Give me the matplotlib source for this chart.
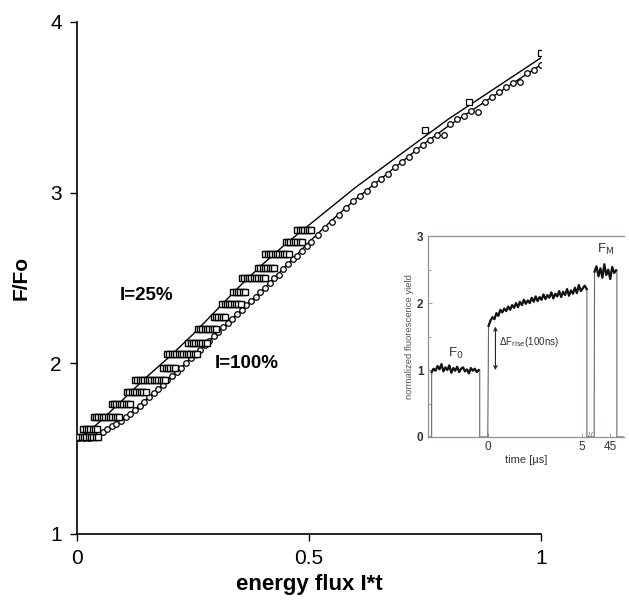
import numpy as np
import matplotlib
matplotlib.use('Agg')
import matplotlib.pyplot as plt

plt.rcParams['font.family'] = ['Liberation Sans', 'DejaVu Sans']

# I=100% : circles
c_x = [0.005, 0.015, 0.025, 0.035, 0.045, 0.055, 0.065, 0.075, 0.085, 0.095,
       0.105, 0.115, 0.125, 0.135, 0.145, 0.155, 0.165, 0.175, 0.185, 0.195,
       0.205, 0.215, 0.225, 0.235, 0.245, 0.255, 0.265, 0.275, 0.285, 0.295,
       0.305, 0.315, 0.325, 0.335, 0.345, 0.355, 0.365, 0.375, 0.385, 0.395,
       0.405, 0.415, 0.425, 0.435, 0.445, 0.455, 0.465, 0.475, 0.485, 0.495,
       0.505, 0.52, 0.535, 0.55, 0.565, 0.58, 0.595, 0.61, 0.625, 0.64,
       0.655, 0.67, 0.685, 0.70, 0.715, 0.73, 0.745, 0.76, 0.775, 0.79,
       0.805, 0.82, 0.835, 0.85, 0.865, 0.88, 0.895, 0.91, 0.925, 0.94,
       0.955, 0.97, 0.985, 1.0]
c_y = [1.56, 1.56, 1.565, 1.57, 1.585, 1.60, 1.615, 1.63, 1.645, 1.665,
       1.685, 1.705, 1.725, 1.75, 1.775, 1.80, 1.825, 1.85, 1.875, 1.90,
       1.925, 1.95, 1.975, 2.00, 2.03, 2.055, 2.08, 2.105, 2.13, 2.16,
       2.185, 2.21, 2.235, 2.26, 2.29, 2.315, 2.34, 2.365, 2.39, 2.415,
       2.44, 2.47, 2.50, 2.52, 2.55, 2.58, 2.61, 2.63, 2.66, 2.69,
       2.71, 2.75, 2.79, 2.83, 2.87, 2.91, 2.95, 2.98, 3.01, 3.05,
       3.08, 3.11, 3.15, 3.18, 3.21, 3.25, 3.28, 3.31, 3.34, 3.34,
       3.40, 3.43, 3.45, 3.48, 3.47, 3.53, 3.56, 3.59, 3.62, 3.64,
       3.65, 3.70, 3.72, 3.75]

# I=25% : squares, grouped by F/Fo level
s_levels = [1.57, 1.615, 1.685, 1.76, 1.83, 1.90, 1.975, 2.055, 2.12, 2.20,
            2.27, 2.345, 2.42, 2.50, 2.56, 2.64, 2.71, 2.78]
s_rows = [[0.0, 0.005, 0.01, 0.015, 0.02, 0.025, 0.03, 0.035, 0.04, 0.045],
          [0.014, 0.019, 0.024, 0.029, 0.034, 0.039, 0.044],
          [0.036, 0.041, 0.046, 0.051, 0.056, 0.061, 0.066, 0.071, 0.076, 0.081,
           0.086, 0.091],
          [0.075, 0.08, 0.085, 0.09, 0.095, 0.1, 0.105, 0.11, 0.115],
          [0.108, 0.113, 0.118, 0.123, 0.128, 0.133, 0.138, 0.143, 0.148],
          [0.125, 0.13, 0.135, 0.14, 0.145, 0.15, 0.155, 0.16, 0.165, 0.17,
           0.175, 0.18, 0.185, 0.19],
          [0.186, 0.191, 0.196, 0.201, 0.206, 0.211],
          [0.194, 0.199, 0.204, 0.209, 0.214, 0.219, 0.224, 0.229, 0.234, 0.239,
           0.244, 0.249, 0.254, 0.259],
          [0.24, 0.245, 0.25, 0.255, 0.26, 0.265, 0.27, 0.275, 0.28],
          [0.26, 0.265, 0.27, 0.275, 0.28, 0.285, 0.29, 0.295, 0.30],
          [0.295, 0.30, 0.305, 0.31, 0.315, 0.32],
          [0.313, 0.318, 0.323, 0.328, 0.333, 0.338, 0.343, 0.348, 0.353],
          [0.337, 0.342, 0.347, 0.352, 0.357, 0.362],
          [0.356, 0.361, 0.366, 0.371, 0.376, 0.381, 0.386, 0.391, 0.396, 0.401,
           0.406],
          [0.39, 0.395, 0.40, 0.405, 0.41, 0.415, 0.42, 0.425],
          [0.406, 0.411, 0.416, 0.421, 0.426, 0.431, 0.436, 0.441, 0.446, 0.451,
           0.456],
          [0.45, 0.455, 0.46, 0.465, 0.47, 0.475, 0.48, 0.485],
          [0.475, 0.48, 0.485, 0.49, 0.495, 0.50, 0.505]]
s_late_x = [0.75, 0.845, 1.0]
s_late_y = [3.37, 3.53, 3.82]

# fitted curves
fit25_x = [0.0, 0.02, 0.05, 0.1, 0.15, 0.2, 0.25, 0.3, 0.35, 0.4, 0.45, 0.5,
           0.6, 0.7, 0.8, 0.9, 1.0]
fit25_y = [1.57, 1.59, 1.66, 1.79, 1.92, 2.04, 2.17, 2.31, 2.45, 2.58, 2.70, 2.81,
           3.03, 3.23, 3.43, 3.61, 3.79]
fit100_x = [0.0, 0.03, 0.06, 0.1, 0.15, 0.2, 0.25, 0.3, 0.35, 0.4, 0.45, 0.5,
            0.55, 0.6, 0.65, 0.7, 0.75, 0.8, 0.85, 0.9, 0.95, 1.0]
fit100_y = [1.57, 1.565, 1.60, 1.67, 1.79, 1.91, 2.04, 2.17, 2.30, 2.43, 2.57, 2.71,
            2.84, 2.96, 3.07, 3.18, 3.29, 3.39, 3.48, 3.57, 3.66, 3.75]

# inset trace (time axis broken, arbitrary index units)
f0_x = list(range(2, 27))
f0_y = [0.97, 1.02, 0.99, 1.06, 1.01, 1.09, 0.98, 1.04, 1.00, 1.07, 0.96, 1.03,
        0.99, 1.05, 0.97, 1.02, 1.04, 0.98, 1.01, 0.95, 1.03, 0.99, 1.02, 0.97, 1.00]
rise_x = list(range(31, 82))
rise_y = [1.66, 1.74, 1.79, 1.76, 1.85, 1.81, 1.90, 1.86, 1.92, 1.88, 1.95, 1.90,
          1.97, 1.93, 2.00, 1.94, 2.02, 1.97, 2.05, 1.99, 2.04, 2.00, 2.08, 2.02,
          2.10, 2.03, 2.09, 2.05, 2.13, 2.06, 2.12, 2.08, 2.16, 2.07, 2.14, 2.10,
          2.18, 2.09, 2.17, 2.12, 2.21, 2.11, 2.19, 2.14, 2.23, 2.15, 2.27, 2.18,
          2.22, 2.26, 2.21]
fm_x = list(range(85, 97))
fm_y = [2.47, 2.55, 2.40, 2.52, 2.38, 2.58, 2.42, 2.50, 2.36, 2.54, 2.45, 2.49]
inset_ticks = [30.6, 78.6, 92.9]
inset_ticklabels = ['0', '5', '45']

fig = plt.figure(figsize=(6.29, 6.04), dpi=100)
ax = fig.add_axes([0.1224, 0.1159, 0.7376, 0.8477])

ax.plot(fit25_x, fit25_y, color='black', lw=1.0, zorder=2)
ax.plot(fit100_x, fit100_y, color='black', lw=1.0, zorder=2)
ax.plot(c_x, c_y, ls='none', marker='o', ms=4.0, mfc='white', mec='black',
        mew=0.9, zorder=3)
for lev, row in zip(s_levels, s_rows):
    ax.plot(row, [lev] * len(row), ls='none', marker='s', ms=4.0, mfc='white',
            mec='black', mew=1.0, zorder=4)
ax.plot(s_late_x, s_late_y, ls='none', marker='s', ms=4.2, mfc='white',
        mec='black', mew=0.9, zorder=4)

ax.text(0.093, 2.40, 'I=25%', fontsize=13.5, fontweight='bold', va='center')
ax.text(0.298, 2.0, 'I=100%', fontsize=13.5, fontweight='bold', va='center')

ax.set_xlim(0, 1)
ax.set_ylim(1, 4)
ax.set_xticks([0, 0.5, 1])
ax.set_xticklabels(['0', '0.5', '1'])
ax.set_yticks([1, 2, 3, 4])
ax.tick_params(direction='out', length=5, width=1, labelsize=15, pad=6)
ax.spines['top'].set_visible(False)
ax.spines['right'].set_visible(False)
ax.spines['left'].set_linewidth(1.2)
ax.spines['bottom'].set_linewidth(1.2)
ax.set_xlabel('energy flux I*t', fontsize=16, fontweight='bold', labelpad=4)
ax.set_ylabel('F/Fo', fontsize=15, fontweight='bold', labelpad=14)

# inset: fluorescence transient
frame = '#9a8e84'
ins = fig.add_axes([0.680, 0.2765, 0.312, 0.3325])
tr_x = [0, 2] + f0_x + [26.5, 26.5, 30.6] + rise_x + [81.1, 81.1, 84.8] + fm_x + [96.4, 96.4, 100]
tr_y = [0, 0] + f0_y + [f0_y[-1], 0, 0] + rise_y + [rise_y[-1], 0, 0] + fm_y + [fm_y[-1], 0, 0]
ins.plot(tr_x, tr_y, color='#6e6660', lw=0.8)
ins.plot(f0_x, f0_y, color='#111111', lw=1.6)
ins.plot(rise_x, rise_y, color='#111111', lw=1.6)
ins.plot(fm_x, fm_y, color='#111111', lw=1.6)
ins.annotate('', xy=(34.5, 1.0), xytext=(34.5, 1.65),
             arrowprops=dict(arrowstyle='<->', color='#222222', lw=0.8,
                             shrinkA=0, shrinkB=0, mutation_scale=6))
ins.text(36.5, 1.42, r'$\Delta$F$_{\rm rise}$(100ns)', fontsize=7, color='#333333',
         va='center')
ins.text(10.5, 1.25, r'F$_0$', fontsize=9.5, color='#333333', va='center')
ins.text(86.5, 2.8, r'F$_{\rm M}$', fontsize=9.5, color='#333333', va='center')
ins.text(82.8, 0.02, '//', fontsize=6, color='#555555', ha='center', va='center')

ins.set_xlim(0, 100)
ins.set_ylim(0, 3)
ins.set_xticks(inset_ticks)
ins.set_xticklabels(inset_ticklabels)
ins.set_yticks([0, 1, 2, 3])
ins.set_yticks([0.5, 1.5, 2.5], minor=True)
ins.tick_params(axis='both', direction='in', length=3, width=0.6, colors=frame,
                labelcolor='#333333', labelsize=8.5, pad=3)
ins.tick_params(axis='y', which='minor', direction='in', length=2, width=0.6,
                colors=frame)
for lab in ins.get_yticklabels():
    lab.set_fontweight('bold')
for side in ['left', 'top', 'bottom']:
    ins.spines[side].set_color(frame)
    ins.spines[side].set_linewidth(0.9)
ins.spines['right'].set_visible(False)
ins.set_xlabel('time [\u00b5s]', fontsize=8, color='#333333', labelpad=1)
ins.set_ylabel('normalized fluorescence yield', fontsize=6.8, color='#555555',
               labelpad=2)
ins.patch.set_alpha(0)

fig.savefig('out.png', dpi=100)
